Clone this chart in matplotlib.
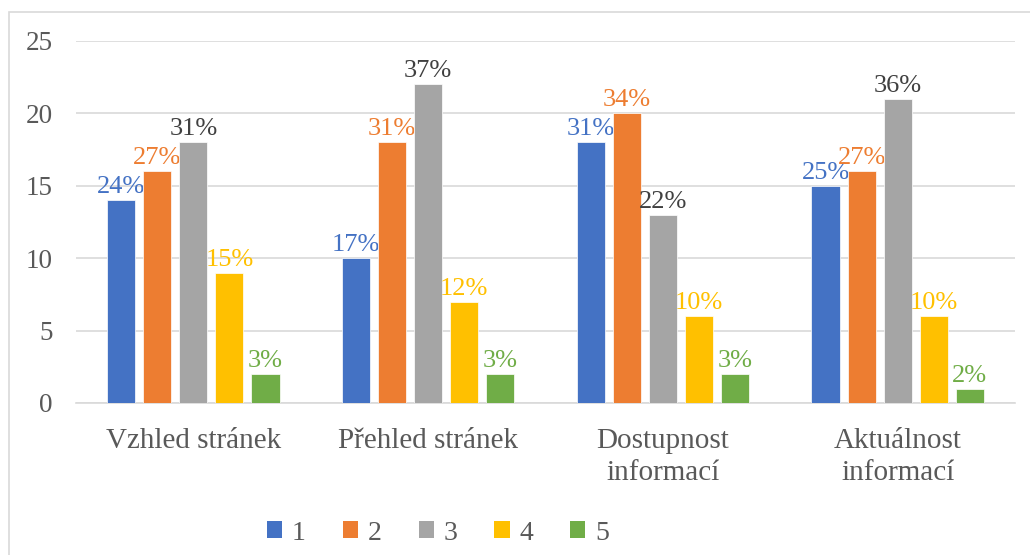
import matplotlib.pyplot as plt
import numpy as np
from matplotlib.patches import Patch, Rectangle

plt.rcParams['font.family'] = ['Liberation Serif', 'DejaVu Serif']

# data
categories = ['Vzhled stránek', 'Přehled stránek', 'Dostupnost\ninformací', 'Aktuálnost\ninformací']
series_names = ['1', '2', '3', '4', '5']
values_1 = [14, 10, 18, 15]
values_2 = [16, 18, 20, 16]
values_3 = [18, 22, 13, 21]
values_4 = [9, 7, 6, 6]
values_5 = [2, 2, 2, 1]
labels_1 = ['24%', '17%', '31%', '25%']
labels_2 = ['27%', '31%', '34%', '27%']
labels_3 = ['31%', '37%', '22%', '36%']
labels_4 = ['15%', '12%', '10%', '10%']
labels_5 = ['3%', '3%', '3%', '2%']

all_values = [values_1, values_2, values_3, values_4, values_5]
all_labels = [labels_1, labels_2, labels_3, labels_4, labels_5]
colors = ['#4472C4', '#ED7D31', '#A5A5A5', '#FFC000', '#70AD47']
label_colors = ['#4472C4', '#ED7D31', '#404040', '#FFC000', '#70AD47']
text_grey = '#595959'

fig = plt.figure(figsize=(10.30, 5.55), dpi=100)
ax = fig.add_axes([76 / 1030, 1 - 403 / 555, 939 / 1030, 362 / 555])

# chart border (cut at right/bottom like the source)
fig.patches.append(Rectangle((9 / 1030, -0.1), 1.2, (555 - 12) / 555 + 0.1,
                             transform=fig.transFigure, fill=False,
                             edgecolor='#d9d9d9', linewidth=1.2))

x = np.arange(len(categories))
step = 0.1535
width = 0.12
for i, (vals, labs) in enumerate(zip(all_values, all_labels)):
    pos = x + (i - 2) * step
    bars = ax.bar(pos, vals, width, color=colors[i], edgecolor='white',
                  linewidth=0.5, zorder=3)
    for b, lab in zip(bars, labs):
        ax.annotate(lab, (b.get_x() + b.get_width() / 2, b.get_height()),
                    xytext=(0, 7), textcoords='offset pixels',
                    ha='center', va='baseline', fontsize=19,
                    color=label_colors[i])

ax.set_xlim(-0.5, 3.5)
ax.set_ylim(0, 25)
ax.set_yticks([0, 5, 10, 15, 20, 25])
ax.set_xticks(x)
ax.set_xticklabels(categories, linespacing=1.3, fontsize=21)
ax.tick_params(axis='y', length=0, labelsize=19.5, labelcolor=text_grey, pad=17)
ax.tick_params(axis='x', length=0, labelcolor=text_grey, pad=18)
ax.grid(axis='y', color='#d9d9d9', linewidth=1.2, zorder=0)
for s in ['top', 'right', 'left']:
    ax.spines[s].set_visible(False)
ax.spines['bottom'].set_color('#d9d9d9')
ax.spines['bottom'].set_linewidth(1.2)

handles = [Patch(facecolor=c) for c in colors]
fig.legend(handles, series_names, loc='center', ncol=5,
           bbox_to_anchor=(438 / 1030, 1 - 533 / 555), frameon=False,
           fontsize=20, labelcolor=text_grey, handlelength=0.55,
           handleheight=0.55, handletextpad=0.35, columnspacing=1.33)

fig.savefig('out.png', dpi=100)
